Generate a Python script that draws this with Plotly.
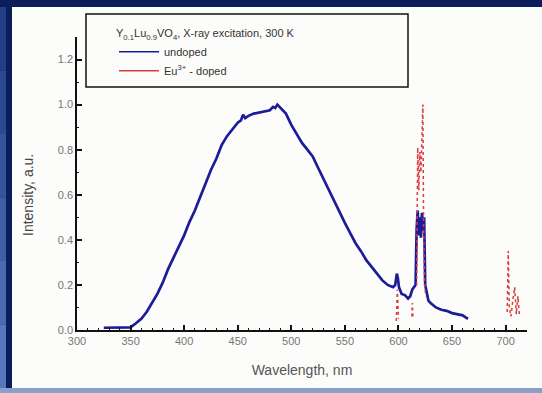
import plotly.graph_objects as go

# Undoped Y0.1Lu0.9VO4 emission band (wavelength in nm, normalised intensity)
wl_undoped = [325, 330, 335, 340, 345, 350, 355, 360, 365, 370, 375, 380, 385, 390,
              395, 400, 405, 410, 415, 420, 425, 430, 435, 440, 445, 450, 453, 455,
              457, 460, 465, 470, 475, 480, 483, 485, 487, 490, 495, 500, 505, 510,
              515, 520, 525, 530, 535, 540, 545, 550, 555, 560, 565, 570, 575, 580,
              585, 590, 595, 597, 598.5, 599.5, 600.5, 603, 606, 609, 611, 613, 616,
              617, 618, 619, 620, 621, 622, 623, 624, 625, 626, 628, 630, 635, 640,
              645, 650, 655, 660, 663, 665]
int_undoped = [0.01, 0.01, 0.01, 0.01, 0.01, 0.012, 0.03, 0.05, 0.08, 0.12, 0.16, 0.21,
               0.27, 0.32, 0.37, 0.42, 0.48, 0.53, 0.59, 0.65, 0.71, 0.76, 0.82, 0.86,
               0.89, 0.92, 0.93, 0.955, 0.94, 0.95, 0.96, 0.965, 0.97, 0.975, 0.99,
               0.985, 1.0, 0.985, 0.96, 0.91, 0.87, 0.83, 0.80, 0.77, 0.72, 0.67, 0.62,
               0.57, 0.52, 0.475, 0.43, 0.385, 0.35, 0.31, 0.28, 0.25, 0.22, 0.20, 0.19,
               0.20, 0.25, 0.23, 0.19, 0.16, 0.155, 0.14, 0.15, 0.18, 0.20, 0.45, 0.53,
               0.42, 0.50, 0.41, 0.52, 0.44, 0.50, 0.20, 0.17, 0.13, 0.12, 0.10, 0.09,
               0.085, 0.075, 0.07, 0.065, 0.055, 0.05]

# Eu3+-doped sample: narrow f-f emission lines
wl_doped = [598.0, 599.0, 600.0, None, 612.5, 613.0, 613.5, None,
            617.0, 618.0, 619.0, 620.0, 621.0, 622.0, 622.8, 623.5, 624.5, 625.5, None,
            701.5, 702.5, 703.5, 705.0, 707.0, 708.5, 710.0, 711.5, 713.0]
int_doped = [0.04, 0.18, 0.05, None, 0.06, 0.12, 0.06, None,
             0.20, 0.81, 0.62, 0.79, 0.70, 0.95, 1.0, 0.45, 0.20, 0.15, None,
             0.08, 0.35, 0.10, 0.06, 0.14, 0.19, 0.07, 0.15, 0.06]

x_ticks = [300, 350, 400, 450, 500, 550, 600, 650, 700]
y_ticks = [0.0, 0.2, 0.4, 0.6, 0.8, 1.0, 1.2]

BLUE = "#1c1c9a"
RED = "#d83c3c"
FONT = "Liberation Sans, Arial, sans-serif"

# page layout (pixels) -> paper coordinates of the plotting area
L, R, T, B = 77, 15, 37, 63
W, H = 542, 393
PW, PH = W - L - R, H - T - B


def px(X):
    return (X - L) / PW


def py(Y):
    return (H - B - Y) / PH


fig = go.Figure()

fig.add_trace(go.Scatter(
    x=wl_undoped, y=int_undoped, mode="lines", name="undoped",
    line=dict(color=BLUE, width=2.7), showlegend=False, legendgroup="un",
))
fig.add_trace(go.Scatter(
    x=wl_doped, y=int_doped, mode="lines", name="Eu<sup>3+</sup> - doped",
    line=dict(color=RED, width=1.5, dash="dot"), connectgaps=False,
    showlegend=False, legendgroup="eu",
))
# legend keys are drawn as thin solid lines
fig.add_trace(go.Scatter(
    x=[None], y=[None], mode="lines", name="undoped",
    line=dict(color=BLUE, width=1.5), legendgroup="un",
))
fig.add_trace(go.Scatter(
    x=[None], y=[None], mode="lines", name="Eu<sup>3+</sup> - doped",
    line=dict(color=RED, width=1.5), legendgroup="eu",
))

shapes = []
# slide frame: white panel on a dark blue surround
shapes.append(dict(type="rect", xref="paper", yref="paper", layer="below",
                   x0=px(12), x1=px(W + 2), y0=py(388), y1=py(7),
                   fillcolor="#fcfcfa", line=dict(width=0)))
shapes.append(dict(type="rect", xref="paper", yref="paper", layer="below",
                   x0=px(0), x1=px(W + 2), y0=py(H + 2), y1=py(388),
                   fillcolor="#8aa0c6", line=dict(width=0)))
strip_cols = ["#233f88", "#2b4992", "#34549c", "#3e5fa7", "#4a6bb1", "#5677ba"]
n = len(strip_cols)
for i, c in enumerate(strip_cols):
    y_top = 7 + i * (381 / n)
    y_bot = 7 + (i + 1) * (381 / n)
    shapes.append(dict(type="rect", xref="paper", yref="paper", layer="below",
                       x0=px(0), x1=px(6), y0=py(y_bot), y1=py(y_top),
                       fillcolor=c, line=dict(width=0)))
# legend frame
shapes.append(dict(type="rect", xref="paper", yref="paper",
                   x0=px(86), x1=px(408), y0=py(87), y1=py(14),
                   fillcolor="rgba(0,0,0,0)", line=dict(color="#111", width=1.5)))

fig.update_layout(
    width=W, height=H,
    margin=dict(l=L, r=R, t=T, b=B),
    paper_bgcolor="#0b1d5a",
    plot_bgcolor="rgba(0,0,0,0)",
    font=dict(family=FONT, color="#555"),
    shapes=shapes,
    showlegend=True,
    legend=dict(
        x=px(114), y=py(23), xanchor="left", yanchor="top",
        bgcolor="rgba(0,0,0,0)", borderwidth=0,
        font=dict(size=11, color="#333", family=FONT),
        title=dict(text="Y<sub>0.1</sub>Lu<sub>0.9</sub>VO<sub>4</sub>, X-ray excitation, 300 K",
                   side="top", font=dict(size=11, color="#333", family=FONT)),
        tracegroupgap=0, itemwidth=40,
    ),
    annotations=[dict(
        text="Intensity, a.u.", textangle=-90, showarrow=False,
        xref="paper", yref="paper", x=px(28), y=py(195),
        xanchor="center", yanchor="middle",
        font=dict(size=14, color="#444", family=FONT),
    )],
    xaxis=dict(
        range=[300, 720], tickmode="array", tickvals=x_ticks,
        ticks="inside", ticklen=5, tickwidth=1.5, tickcolor="#111",
        minor=dict(ticks="inside", dtick=10, ticklen=2.5, tickwidth=1, tickcolor="#111"),
        showline=True, linecolor="#111", linewidth=1.5,
        showgrid=False, zeroline=False,
        tickfont=dict(size=11, color="#777"),
        title=dict(text="Wavelength, nm", font=dict(size=14, color="#555"), standoff=19),
    ),
    yaxis=dict(
        range=[0, 1.3], tickmode="array", tickvals=y_ticks, tickformat=".1f",
        ticks="inside", ticklen=5, tickwidth=1.5, tickcolor="#111",
        minor=dict(ticks="inside", dtick=0.1, ticklen=2.5, tickwidth=1, tickcolor="#111"),
        showline=True, linecolor="#111", linewidth=1.5,
        showgrid=False, zeroline=False,
        tickfont=dict(size=11, color="#777"),
    ),
)

fig.write_html("out.html")
